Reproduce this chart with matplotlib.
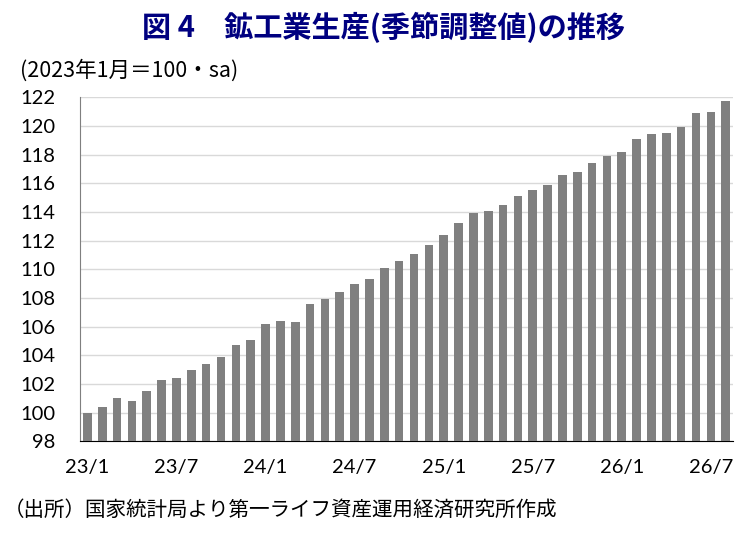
import numpy as np
import matplotlib
matplotlib.use("Agg")
import matplotlib.pyplot as plt

plt.rcParams['font.family'] = ['Noto Sans CJK JP', 'DejaVu Sans']

# Index of mining & manufacturing production, 2023/1 = 100, seasonally adjusted.
months = ['23/%d' % m for m in range(1, 13)] + \
         ['24/%d' % m for m in range(1, 13)] + \
         ['25/%d' % m for m in range(1, 13)] + \
         ['26/%d' % m for m in range(1, 9)]
values = [100.0, 100.4, 101.0, 100.8, 101.5, 102.3, 102.4, 103.0, 103.4, 103.9,
          104.7, 105.1, 106.2, 106.4, 106.3, 107.6, 107.9, 108.4, 109.0, 109.3,
          110.1, 110.6, 111.1, 111.7, 112.4, 113.2, 113.9, 114.1, 114.5, 115.1,
          115.5, 115.9, 116.6, 116.8, 117.4, 117.9, 118.2, 119.1, 119.4, 119.5,
          119.9, 120.9, 121.0, 121.7]
tick_labels = ['23/1', '23/7', '24/1', '24/7', '25/1', '25/7', '26/1', '26/7']
y_ticks = list(range(98, 123, 2))

fig = plt.figure(figsize=(7.49, 5.37), dpi=100)
ax = fig.add_axes([0.1068, 0.178, 0.872, 0.641])

x = np.arange(len(values))
ax.bar(x, values, width=0.58, color='#808080', zorder=3)

ax.set_ylim(98, 122)
ax.set_yticks(y_ticks)
ax.set_xlim(-0.5, len(values) - 0.5)
ax.set_xticks([months.index(t) for t in tick_labels])
ax.set_xticklabels(tick_labels)
ax.grid(axis='y', color='#d9d9d9', linewidth=1.0, zorder=0)

for side in ['top', 'right']:
    ax.spines[side].set_visible(False)
ax.spines['left'].set_color('#7f7f7f')
ax.spines['bottom'].set_color('#000000')
ax.tick_params(axis='both', length=0, labelsize=14.5)
ax.tick_params(axis='y', pad=18)
ax.tick_params(axis='x', pad=13)
for lbl in ax.get_xticklabels() + ax.get_yticklabels():
    lbl.set_family(['Lato', 'DejaVu Sans'])

fig.text(0.512, 0.948, '図 4　鉱工業生産(季節調整値)の推移', ha='center', va='center',
         fontsize=21, fontweight='bold', color='#000080')
fig.text(0.027, 0.868, '(2023年1月＝100・sa)', ha='left', va='center', fontsize=15.5)
fig.text(0.005, 0.05, '（出所）国家統計局より第一ライフ資産運用経済研究所作成', ha='left', va='center',
         fontsize=14.8)

fig.savefig('out.png', dpi=100)
